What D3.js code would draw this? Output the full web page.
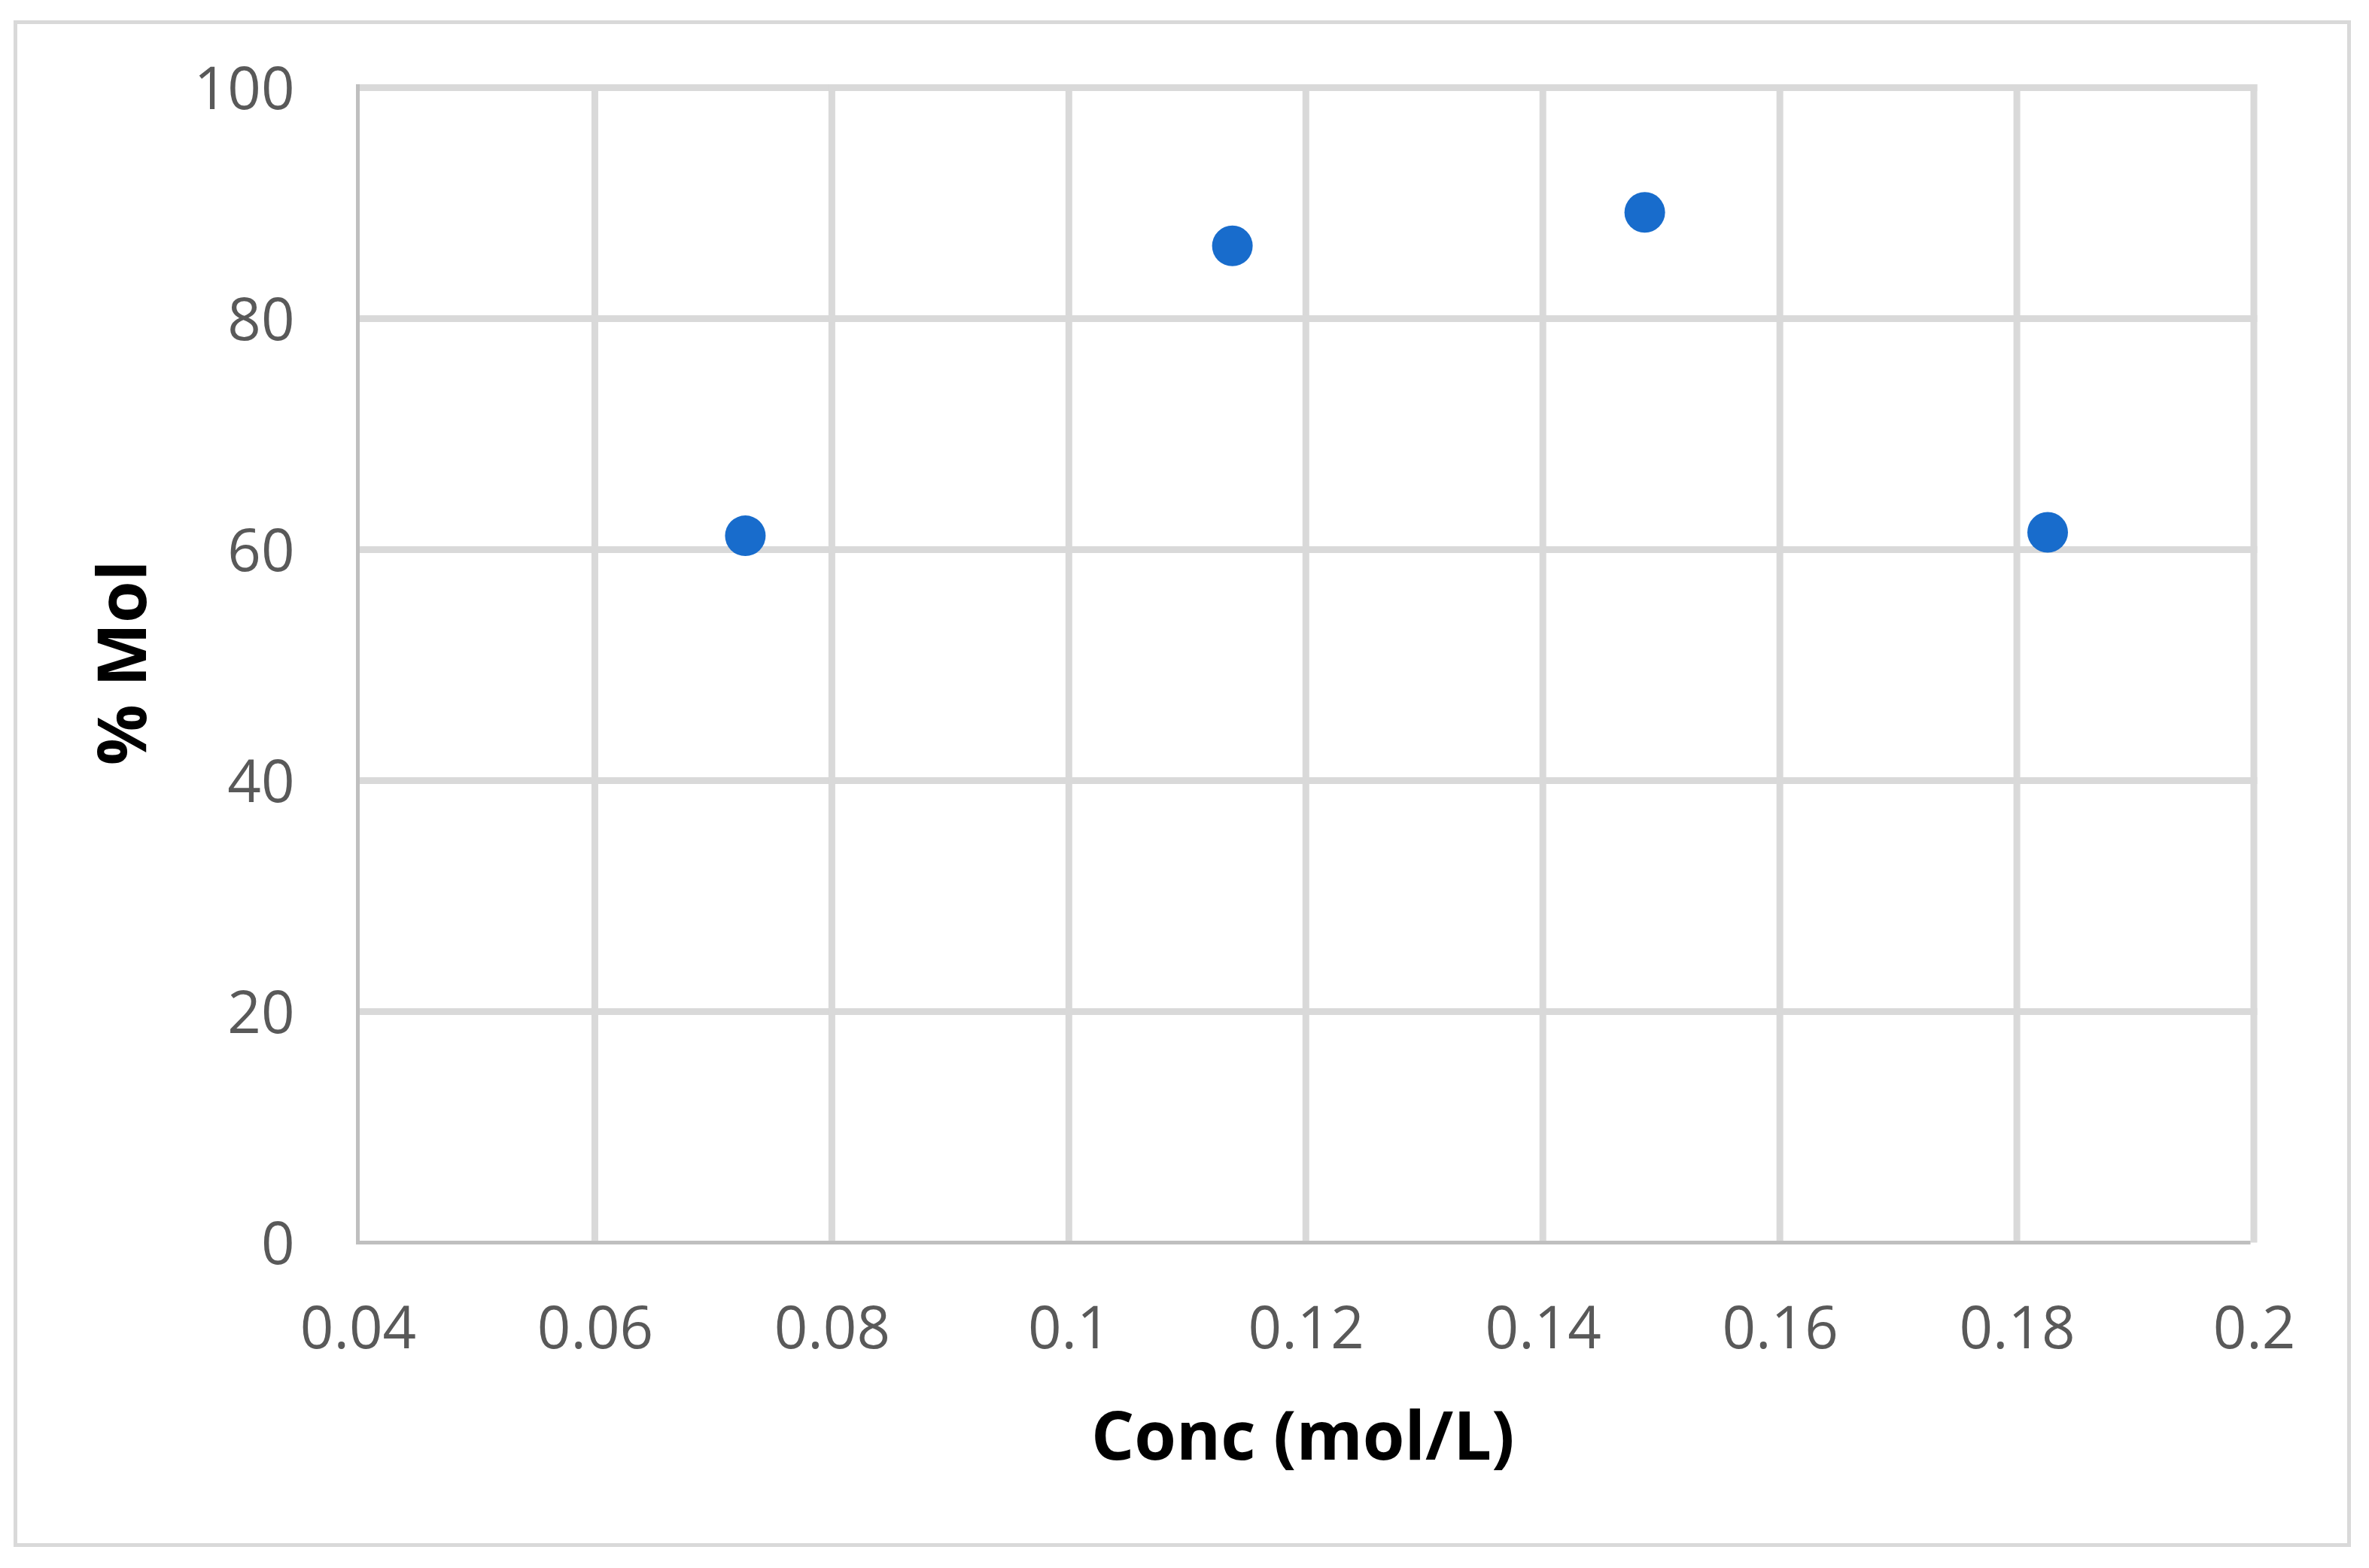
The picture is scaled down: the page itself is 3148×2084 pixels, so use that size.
<!DOCTYPE html>
<html>
<head>
<meta charset="utf-8">
<script src="https://cdn.jsdelivr.net/npm/d3@7"></script>
<style>
  html, body { margin: 0; padding: 0; background: #fff; }
  svg { display: block; }
</style>
</head>
<body>
<svg id="chart" width="3148" height="2084"></svg>
<script>
// data
var concValues = [0.0727, 0.1138, 0.1486, 0.1826];
var molPercent = [61.2, 86.3, 89.2, 61.5];
var xTicks = [0.04, 0.06, 0.08, 0.1, 0.12, 0.14, 0.16, 0.18, 0.2];
var yTicks = [0, 20, 40, 60, 80, 100];

var svg = d3.select('#chart');
var plot = { left: 475.5, right: 2995, top: 116.5, bottom: 1651.5 };

var x = d3.scaleLinear().domain([0.04, 0.2]).range([plot.left, plot.right]);
var y = d3.scaleLinear().domain([0, 100]).range([plot.bottom, plot.top]);

// outer chart frame
svg.append('rect')
    .attr('x', 20.5).attr('y', 29.5)
    .attr('width', 3101).attr('height', 2024)
    .attr('fill', '#fff')
    .attr('stroke', '#d9d9d9')
    .attr('stroke-width', 5);

var grid = svg.append('g').attr('class', 'grid');

grid.selectAll('line.h')
    .data(yTicks.filter(function(v) { return v > 0; }))
    .enter().append('line')
    .attr('class', 'h')
    .attr('x1', plot.left).attr('x2', plot.right + 4.5)
    .attr('y1', function(d) { return y(d); })
    .attr('y2', function(d) { return y(d); })
    .attr('stroke', '#d9d9d9')
    .attr('stroke-width', 9);

grid.selectAll('line.v')
    .data(xTicks.filter(function(v) { return v > 0.04; }))
    .enter().append('line')
    .attr('class', 'v')
    .attr('x1', function(d) { return x(d); })
    .attr('x2', function(d) { return x(d); })
    .attr('y1', plot.top - 4.5).attr('y2', plot.bottom)
    .attr('stroke', '#d9d9d9')
    .attr('stroke-width', 9);

// axis lines
svg.append('line')
    .attr('x1', plot.left).attr('x2', plot.left)
    .attr('y1', plot.top - 4.5).attr('y2', plot.bottom + 2.5)
    .attr('stroke', '#bfbfbf').attr('stroke-width', 5);
svg.append('line')
    .attr('x1', plot.left - 2.5).attr('x2', plot.right - 4.5)
    .attr('y1', plot.bottom).attr('y2', plot.bottom)
    .attr('stroke', '#bfbfbf').attr('stroke-width', 5);

// tick labels through d3 axes (no tick lines)
var fmt = function(v) { return String(+v.toFixed(2)); };

var xAxis = svg.append('g')
    .attr('transform', 'translate(0,' + plot.bottom + ')')
    .call(d3.axisBottom(x).tickValues(xTicks).tickFormat(fmt).tickSize(0).tickPadding(120));
var yAxis = svg.append('g')
    .attr('transform', 'translate(' + plot.left + ',0)')
    .call(d3.axisLeft(y).tickValues(yTicks).tickFormat(fmt).tickSize(0).tickPadding(84));

[xAxis, yAxis].forEach(function(ax) {
    ax.select('.domain').remove();
    ax.selectAll('text')
        .attr('font-family', '"Open Sans", sans-serif')
        .attr('font-size', 78)
        .attr('fill', '#595959');
});
xAxis.selectAll('text').attr('dy', null).attr('dominant-baseline', 'middle');
yAxis.selectAll('text').attr('dy', '0.36em');

// points
svg.append('g').selectAll('circle')
    .data(concValues.map(function(c, i) { return [c, molPercent[i]]; }))
    .enter().append('circle')
    .attr('cx', function(d) { return x(d[0]); })
    .attr('cy', function(d) { return y(d[1]); })
    .attr('r', 27)
    .attr('fill', '#186ccc');

// axis titles
svg.append('text')
    .attr('x', (plot.left + plot.right) / 2 - 4)
    .attr('y', 1916)
    .attr('text-anchor', 'middle')
    .attr('dominant-baseline', 'middle')
    .attr('font-family', '"Open Sans", sans-serif')
    .attr('font-weight', 'bold')
    .attr('font-size', 90)
    .attr('fill', '#000')
    .text('Conc (mol/L)');

svg.append('text')
    .attr('transform', 'translate(170,' + ((plot.top + plot.bottom) / 2 - 3) + ') rotate(-90)')
    .attr('text-anchor', 'middle')
    .attr('dominant-baseline', 'middle')
    .attr('font-family', '"Open Sans", sans-serif')
    .attr('font-weight', 'bold')
    .attr('font-size', 90)
    .attr('fill', '#000')
    .text('% Mol');
</script>
</body>
</html>
